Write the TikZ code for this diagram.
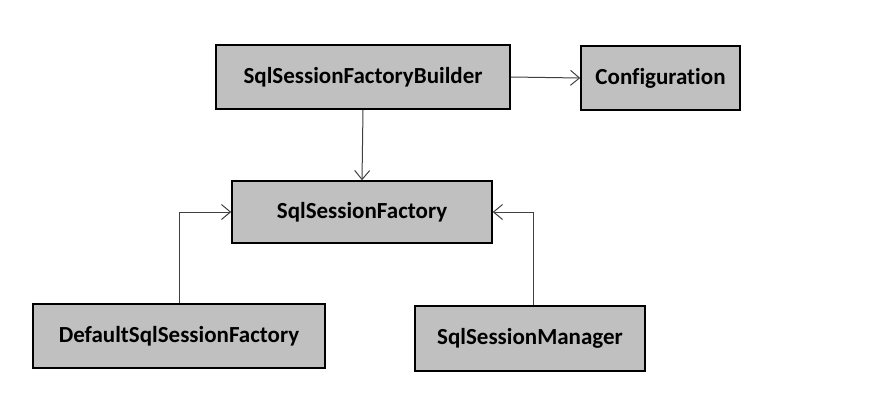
\documentclass[tikz,border=0pt]{standalone}
\usepackage{fontspec}
\setmainfont{Carlito}[RawFeature=-liga]
\usetikzlibrary{arrows.meta}

\definecolor{boxgray}{HTML}{C0C0C0}
\definecolor{linegray}{HTML}{404040}

\tikzset{
    classbox/.style={draw=black, line width=1.5pt, fill=boxgray, font=\fontsize{23}{26}\selectfont\bfseries, inner sep=0pt},
    link/.style={draw=linegray, line width=1pt, -{Straight Barb[length=9pt,width=15pt]}}
}

\begin{document}
\begin{tikzpicture}[x=1pt,y=-1pt]
\useasboundingbox (0,0) rectangle (876,418);
% classes
\node[classbox, minimum width=294pt, minimum height=64pt] (builder) at (363,77) {SqlSessionFactoryBuilder};
\node[classbox, minimum width=159pt, minimum height=64pt] (config) at (660.5,78) {Configuration};
\node[classbox, minimum width=260pt, minimum height=62pt] (factory) at (362,212) {SqlSessionFactory};
\node[classbox, minimum width=292pt, minimum height=64pt] (default) at (179,336) {DefaultSqlSessionFactory};
\node[classbox, minimum width=230pt, minimum height=65pt] (manager) at (530,338.5) {SqlSessionManager};
% connectors
\draw[link] (builder.east) -- (config.west);
\draw[link] (builder.south) -- (factory.north);
\draw[link] (default.north) |- (factory.west);
\draw[link] ([xshift=3pt]manager.north) |- (factory.east);
\end{tikzpicture}
\end{document}
